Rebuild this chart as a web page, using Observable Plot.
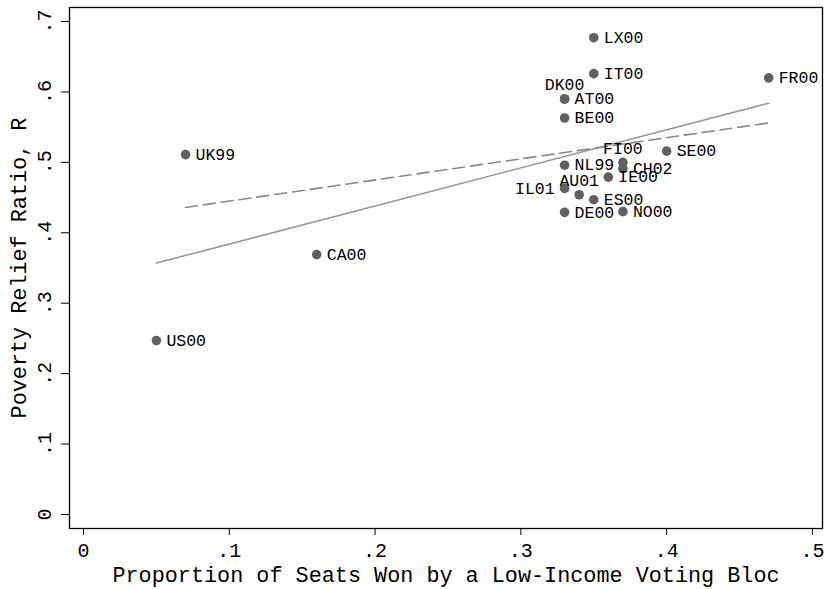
<!DOCTYPE html>
<html><head><meta charset="utf-8">
<script src="https://cdn.jsdelivr.net/npm/d3@7"></script>
<script src="https://cdn.jsdelivr.net/npm/@observablehq/plot@0.6"></script>
<style>body{margin:0;background:#fff}</style>
</head><body><div id="chart"></div>
<script>
const countries = ["US00","UK99","CA00","LX00","IT00","FR00","DK00","AT00","BE00","SE00","FI00","CH02","NL99","IE00","AU01","IL01","ES00","DE00","NO00"];
const seats = [0.05,0.07,0.16,0.35,0.35,0.47,0.33,0.33,0.33,0.40,0.37,0.37,0.33,0.36,0.34,0.33,0.35,0.33,0.37];
const ratio = [0.247,0.511,0.369,0.677,0.626,0.620,0.590,0.590,0.563,0.516,0.500,0.491,0.496,0.479,0.454,0.463,0.447,0.429,0.430];
const labelPos = [3,3,3,3,3,3,12,3,3,3,12,3,3,3,12,9,3,3,3];
const xTicks = [0,0.1,0.2,0.3,0.4,0.5];
const xTickLabels = ["0",".1",".2",".3",".4",".5"];
const yTicks = [0,0.1,0.2,0.3,0.4,0.5,0.6,0.7];
const yTickLabels = ["0",".1",".2",".3",".4",".5",".6",".7"];
const fitSolidX = [0.05,0.47];
const fitSolidY = [0.357,0.584];
const fitDashX = [0.07,0.47];
const fitDashY = [0.436,0.556];
const xTitle = "Proportion of Seats Won by a Low-Income Voting Bloc";
const yTitle = "Poverty Relief Ratio, R";

const pts = countries.map((c,i)=>({c, x:seats[i], y:ratio[i], pos:labelPos[i]}));
const solid = fitSolidX.map((x,i)=>({x, y:fitSolidY[i]}));
const dashed = fitDashX.map((x,i)=>({x, y:fitDashY[i]}));
const lookup = (ticks, labels) => d => labels[ticks.findIndex(t => Math.abs(t - d) < 1e-9)];
const font = "Liberation Mono";

const chart = Plot.plot({
  width: 824, height: 589,
  marginLeft: 69, marginRight: 2, marginTop: 7, marginBottom: 61,
  style: {fontFamily: font, background: "#fff", color: "#000"},
  x: {domain: [-0.0096, 0.5069]},
  y: {domain: [-0.0199, 0.7199]},
  marks: [
    Plot.line(solid, {x:"x", y:"y", stroke:"#999", strokeWidth:1.6}),
    Plot.line(dashed, {x:"x", y:"y", stroke:"#888", strokeWidth:1.6, strokeDasharray:"12,6"}),
    Plot.dot(pts, {x:"x", y:"y", r:4.8, fill:"#606060", stroke:null}),
    Plot.text(pts.filter(d=>d.pos===3), {x:"x", y:"y", text:"c", textAnchor:"start", dx:10, fontSize:16.5, fill:"#000"}),
    Plot.text(pts.filter(d=>d.pos===9), {x:"x", y:"y", text:"c", textAnchor:"end", dx:-10, fontSize:16.5, fill:"#000"}),
    Plot.text(pts.filter(d=>d.pos===12), {x:"x", y:"y", text:"c", textAnchor:"middle", dy:-14, fontSize:16.5, fill:"#000"}),
    Plot.frame({stroke:"#000", strokeWidth:1.3}),
    Plot.axisX({ticks:xTicks, tickFormat:lookup(xTicks,xTickLabels), tickSize:7, tickPadding:7, fontSize:20, label:null}),
    Plot.axisY({ticks:yTicks, tickFormat:lookup(yTicks,yTickLabels), tickRotate:-90, tickSize:8, tickPadding:11, textAnchor:"middle", lineAnchor:"bottom", fontSize:20, label:null}),
    Plot.text([xTitle], {text:d=>d, frameAnchor:"bottom", dy:47, textAnchor:"middle", lineAnchor:"middle", fontSize:21.8, fill:"#000"}),
    Plot.text([yTitle], {text:d=>d, frameAnchor:"left", dx:-50, rotate:-90, textAnchor:"middle", lineAnchor:"middle", fontSize:21.8, fill:"#000"})
  ]
});
document.getElementById("chart").appendChild(chart);
</script>
</body></html>
